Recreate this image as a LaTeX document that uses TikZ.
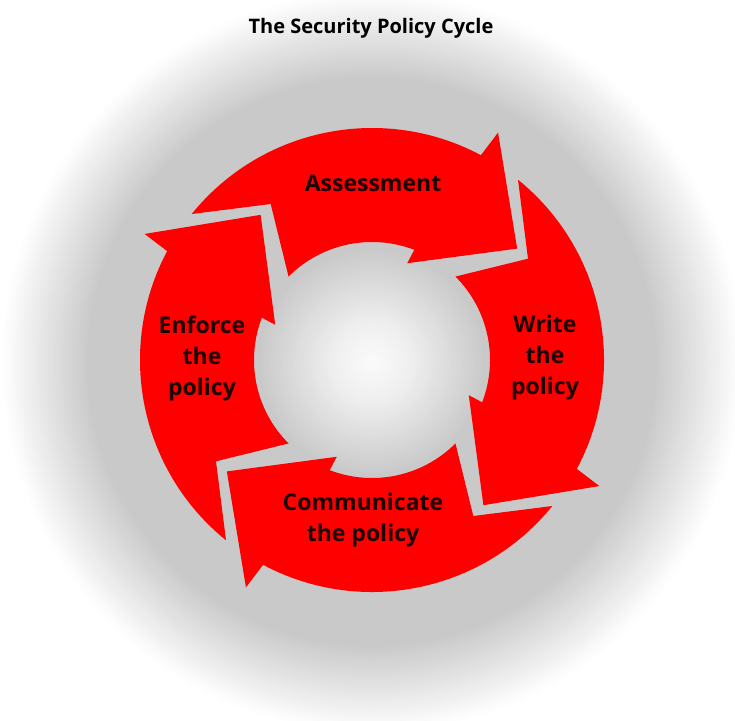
\documentclass[tikz,border=0pt]{standalone}
\usepackage{fontspec}
\setmainfont{Open Sans}
\definecolor{ringred}{HTML}{FF0000}
\definecolor{labelink}{HTML}{1E0000}
\definecolor{bggrey}{HTML}{C9C9C9}
\tikzset{
  titletext/.style={font=\fontsize{20}{23}\selectfont\bfseries, text=black, inner sep=0pt},
  cyclelabel/.style={font=\fontsize{23}{31}\selectfont\bfseries, text=labelink, align=center, inner sep=0pt},
  cyclearrow/.style={fill=ringred, draw=none}
}
\begin{document}
\begin{tikzpicture}[x=1pt,y=-1pt]
\useasboundingbox (0,0) rectangle (735,720);
\fill[white] (0,0) rectangle (735,720);
\foreach \r in {375,372,...,3} {
  \pgfmathsetmacro\g{\r>=372 ? 0 : (\r>=285 ? (372-\r)/87 : (\r>=115 ? 1 : (\r>=40 ? 0.3+0.7*(\r-40)/75 : 0.08+0.22*\r/40)))}
  \pgfmathtruncatemacro\p{100*\g}
  \fill[bggrey!\p!white] (372,362) circle[radius=\r];
}

\node[titletext] (title) at (371,28) {The Security Policy Cycle};

\begin{scope}[shift={(372,360)}, yscale=-1]
  \foreach \k in {0,1,2,3} {
    \begin{scope}[rotate=-90*\k]
      \path[cyclearrow] (141:232) arc[start angle=141, end angle=62, radius=232]
        -- (61:260) -- (37.5:183) -- (70:103) -- (69:118)
        arc[start angle=69, end angle=135, radius=118]
        -- (123:186) -- cycle;
    \end{scope}
  }
\end{scope}

\node[cyclelabel] (assess) at (373,183) {Assessment};
\node[cyclelabel] (write) at (545,358) {Write\\the\\policy};
\node[cyclelabel] (comm) at (363,520) {Communicate\\the policy};
\node[cyclelabel] (enforce) at (202,358) {Enforce\\the\\policy};
\end{tikzpicture}
\end{document}
